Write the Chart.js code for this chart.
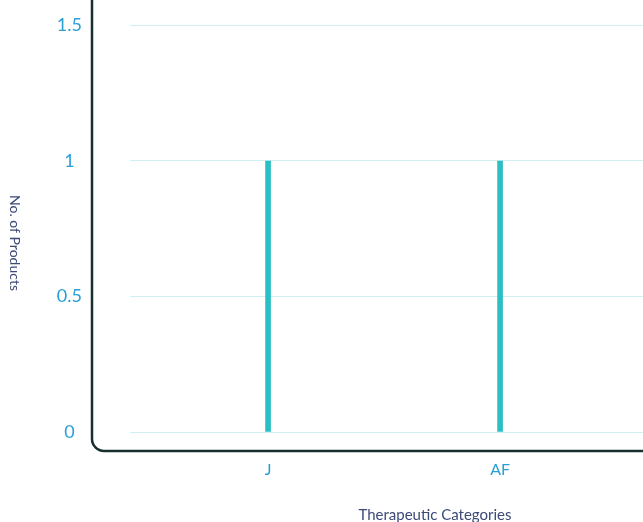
<!DOCTYPE html>
<html>
<head>
<meta charset="utf-8">
<script src="https://cdn.jsdelivr.net/npm/chart.js@4.4.1/dist/chart.umd.min.js"></script>
<style>
  html, body { margin: 0; padding: 0; background: #fff; overflow: hidden; }
  #wrap { position: relative; width: 760px; height: 522px; }
</style>
</head>
<body>
<div id="wrap"><canvas id="chart"></canvas></div>
<script>
const categories = ['J', 'AF'];
const productCounts = [1, 1];
const yTicks = [0, 0.5, 1, 1.5];

const FONT = 'Lato, "Open Sans", sans-serif';
const BLUE = '#2a9fd6';
const NAVY = '#3c4a78';

// L-shaped frame with rounded corner + rotated y title
const framePlugin = {
  id: 'frame',
  beforeDraw(chart) {
    const { ctx, chartArea } = chart;
    const x0 = 92, yb = chartArea.bottom + 19, r = 12;
    ctx.save();
    ctx.strokeStyle = '#16302f';
    ctx.lineWidth = 2.5;
    ctx.beginPath();
    ctx.moveTo(x0, 0);
    ctx.lineTo(x0, yb - r);
    ctx.arcTo(x0, yb, x0 + r, yb, r);
    ctx.lineTo(chart.width, yb);
    ctx.stroke();
    ctx.restore();
  },
  afterDraw(chart) {
    const { ctx } = chart;
    ctx.save();
    ctx.translate(15, 243);
    ctx.rotate(Math.PI / 2);
    ctx.fillStyle = NAVY;
    ctx.font = '14px ' + FONT;
    ctx.textAlign = 'center';
    ctx.textBaseline = 'middle';
    ctx.fillText('No. of Products', 0, 0);
    ctx.restore();
  }
};

new Chart(document.getElementById('chart'), {
  type: 'bar',
  data: {
    datasets: [{
      data: productCounts.map((v, i) => ({ x: i + 1, y: v })),
      backgroundColor: '#2bbfc2',
      borderWidth: 0,
      barThickness: 5
    }]
  },
  options: {
    responsive: true,
    maintainAspectRatio: false,
    animation: false,
    layout: { padding: { top: 0, right: 20, bottom: 0, left: 0 } },
    plugins: { legend: { display: false }, tooltip: { enabled: false } },
    scales: {
      x: {
        type: 'linear',
        offset: false,
        min: 0.405,
        max: 3.034,
        afterBuildTicks: s => { s.ticks = categories.map((c, i) => ({ value: i + 1 })); },
        afterFit: s => { s.height = 90; },
        grid: { display: false, drawTicks: false },
        border: { display: false },
        ticks: {
          padding: 28,
          maxRotation: 0,
          color: BLUE,
          font: { family: FONT, size: 16 },
          callback: v => categories[v - 1] || ''
        },
        title: {
          display: true,
          text: 'Therapeutic Categories',
          color: NAVY,
          font: { family: FONT, size: 15 },
          padding: { top: 0, bottom: -2 }
        }
      },
      y: {
        min: 0,
        max: 1.594,
        afterBuildTicks: s => { s.ticks = yTicks.map(v => ({ value: v })); },
        afterFit: s => { s.width = 130; s.paddingTop = 0; s.paddingBottom = 0; },
        grid: { color: '#cfeff3', lineWidth: 1, drawTicks: false },
        border: { display: false },
        ticks: {
          padding: 48,
          crossAlign: 'center',
          color: BLUE,
          font: { family: FONT, size: 18 },
          callback: v => String(v)
        }
      }
    }
  },
  plugins: [framePlugin]
});
</script>
</body>
</html>
